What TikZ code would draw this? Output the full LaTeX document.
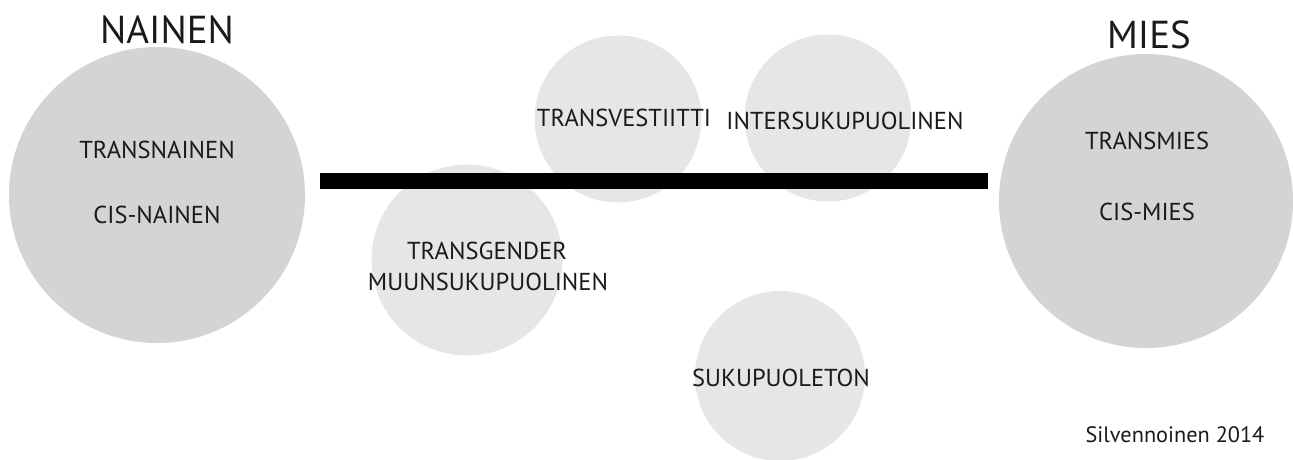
\documentclass[tikz,border=0pt]{standalone}
\usepackage{fontspec}
\setmainfont{PT Sans}
\definecolor{discdark}{HTML}{D4D4D4}
\definecolor{discpale}{HTML}{E6E6E6}
\definecolor{inkgray}{HTML}{1A1A1A}
\begin{document}
\begin{tikzpicture}[x=1pt,y=-1pt,
		bigdisc/.style={circle,fill=discdark,inner sep=0pt,minimum size=#1},
		paledisc/.style={circle,fill=discpale,inner sep=0pt,minimum size=#1},
		term/.style={inner sep=0pt,text=inkgray,font=\fontsize{24.5}{28}\selectfont},
		heading/.style={inner sep=0pt,text=inkgray,font=\fontsize{39}{45}\selectfont}]
	\useasboundingbox (0,0) rectangle (1293,459);
	% the two poles
	\node[bigdisc=296pt] (nainen) at (157,195) {};
	\node[bigdisc=294pt] (mies) at (1146,201) {};
	% the in-between discs
	\node[paledisc=167pt] (vesti) at (618,119) {};
	\node[paledisc=167pt] (inter) at (828,118) {};
	\node[paledisc=191pt] (gender) at (467,260) {};
	\node[paledisc=170pt] (suku) at (780,376) {};
	% the axis
	\coordinate (axisL) at (320,181);
	\coordinate (axisR) at (988,181);
	\draw[line width=16pt,black] (axisL) -- (axisR);
	% texts
	\node[heading] (nainenT) at (167,30) {NAINEN};
	\node[heading] (miesT) at (1149,35) {MIES};
	\node[term] (tnainen) at (157,150) {TRANSNAINEN};
	\node[term] (cnainen) at (157,215) {CIS-NAINEN};
	\node[term] (tmies) at (1147,141) {TRANSMIES};
	\node[term] (cmies) at (1147,212) {CIS-MIES};
	\node[term] (vestiT) at (624,118) {TRANSVESTIITTI};
	\node[term] (interT) at (845,121) {INTERSUKUPUOLINEN};
	\node[term] (genderT) at (487,251) {TRANSGENDER};
	\node[term] (muunT) at (488,282) {MUUNSUKUPUOLINEN};
	\node[term] (sukuT) at (781,378) {SUKUPUOLETON};
	\node[term,font=\fontsize{22.3}{26}\selectfont] (credit) at (1175,435) {Silvennoinen 2014};
\end{tikzpicture}
\end{document}
